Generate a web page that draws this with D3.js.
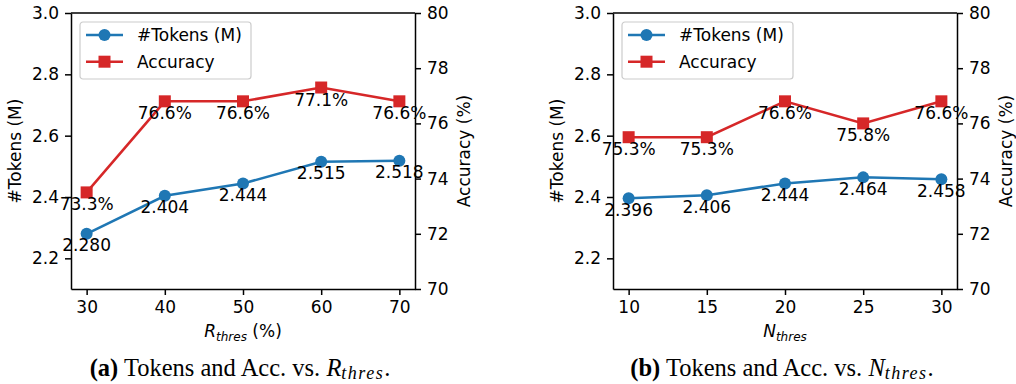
<!DOCTYPE html>
<html lang="en">
<head>
  <meta charset="UTF-8">
  <title>Tokens and Accuracy vs. thresholds</title>
  <script src="https://d3js.org/d3.v7.min.js"></script>
  <style>
    body { margin: 0; background: #fff; }
    svg { display: block; }
    .tick text { font-family: "DejaVu Sans", sans-serif; font-size: 17px; fill: #000; }
    .axis path, .axis line { stroke: #000; stroke-width: 1.5px; }
    .lbl { font-family: "DejaVu Sans", sans-serif; font-size: 17px; fill: #000; }
    .cap { font-family: "Liberation Serif", "Times New Roman", serif; font-size: 24.5px; fill: #000; }
  </style>
</head>
<body>
<div id="chart"></div>
<script>
  // panel (a): R_thres
  const rThres = [30, 40, 50, 60, 70];
  const rTokens = [2.280, 2.404, 2.444, 2.515, 2.518];
  const rAcc = [73.5, 76.8, 76.8, 77.3, 76.8];
  const rAccLabels = ["73.3%", "76.6%", "76.6%", "77.1%", "76.6%"];

  // panel (b): N_thres
  const nThres = [10, 15, 20, 25, 30];
  const nTokens = [2.396, 2.406, 2.444, 2.464, 2.458];
  const nAcc = [75.5, 75.5, 76.8, 76.0, 76.8];
  const nAccLabels = ["75.3%", "75.3%", "76.6%", "75.8%", "76.6%"];

  const tokenTicks = [2.2, 2.4, 2.6, 2.8, 3.0];
  const accTicks = [70, 72, 74, 76, 78, 80];

  const blue = "#1f77b4", red = "#d62728";

  const svg = d3.select("#chart").append("svg")
    .attr("width", 1016)
    .attr("height", 384);

  function drawPanel(o) {
    const top = 13, bottom = 289;
    const g = svg.append("g");

    const x = d3.scaleLinear().domain(o.xDomain).range([o.left, o.right]);
    const yT = d3.scaleLinear().domain([2.1, 3.0]).range([bottom, top]);
    const yA = d3.scaleLinear().domain([70, 80]).range([bottom, top]);

    // axes
    g.append("g").attr("class", "axis")
      .attr("transform", "translate(0," + bottom + ")")
      .call(d3.axisBottom(x).tickValues(o.xs).tickSize(6).tickPadding(6).tickSizeOuter(0));
    g.append("g").attr("class", "axis")
      .attr("transform", "translate(" + o.left + ",0)")
      .call(d3.axisLeft(yT).tickValues(tokenTicks).tickFormat(d3.format(".1f")).tickSize(6).tickPadding(6).tickSizeOuter(0));
    g.append("g").attr("class", "axis")
      .attr("transform", "translate(" + o.right + ",0)")
      .call(d3.axisRight(yA).tickValues(accTicks).tickSize(6).tickPadding(6).tickSizeOuter(0));
    g.append("line")
      .attr("x1", o.left).attr("x2", o.right)
      .attr("y1", top).attr("y2", top)
      .attr("stroke", "#000").attr("stroke-width", 1.5);

    // tokens line
    const lineT = d3.line().x((d, i) => x(o.xs[i])).y(d => yT(d));
    g.append("path").datum(o.tokens)
      .attr("d", lineT).attr("fill", "none")
      .attr("stroke", blue).attr("stroke-width", 2.5);
    g.selectAll(".dotT").data(o.tokens).enter().append("circle")
      .attr("cx", (d, i) => x(o.xs[i])).attr("cy", d => yT(d))
      .attr("r", 6).attr("fill", blue);
    g.selectAll(".labT").data(o.tokens).enter().append("text")
      .attr("class", "lbl")
      .attr("x", (d, i) => x(o.xs[i])).attr("y", d => yT(d) + 17.5)
      .attr("text-anchor", "middle")
      .text(d => d3.format(".3f")(d));

    // accuracy line
    const lineA = d3.line().x((d, i) => x(o.xs[i])).y(d => yA(d));
    g.append("path").datum(o.acc)
      .attr("d", lineA).attr("fill", "none")
      .attr("stroke", red).attr("stroke-width", 2.5);
    g.selectAll(".dotA").data(o.acc).enter().append("rect")
      .attr("x", (d, i) => x(o.xs[i]) - 6).attr("y", d => yA(d) - 6)
      .attr("width", 12).attr("height", 12).attr("fill", red);
    g.selectAll(".labA").data(o.acc).enter().append("text")
      .attr("class", "lbl")
      .attr("x", (d, i) => x(o.xs[i])).attr("y", d => yA(d) + 18)
      .attr("text-anchor", "middle")
      .text((d, i) => o.accLabels[i]);

    // axis labels
    g.append("text").attr("class", "lbl")
      .attr("transform", "translate(" + (o.left - 50) + "," + (top + bottom) / 2 + ") rotate(-90)")
      .attr("text-anchor", "middle").text("#Tokens (M)");
    g.append("text").attr("class", "lbl")
      .attr("transform", "translate(" + (o.right + 55) + "," + (top + bottom) / 2 + ") rotate(-90)")
      .attr("text-anchor", "middle").text("Accuracy (%)");

    const xl = g.append("text").attr("class", "lbl")
      .attr("x", (o.left + o.right) / 2).attr("y", 337)
      .attr("text-anchor", "middle");
    xl.append("tspan").attr("font-style", "italic").text(o.xName);
    xl.append("tspan").attr("font-style", "italic").attr("font-size", "12px")
      .attr("dy", 4).text("thres");
    if (o.xUnit) xl.append("tspan").attr("dy", -4).text("\u00a0" + o.xUnit);

    // legend
    const lg = g.append("g").attr("transform", "translate(" + (o.left + 9) + ",22)");
    lg.append("rect").attr("width", 171).attr("height", 57).attr("rx", 3)
      .attr("fill", "#fff").attr("fill-opacity", 0.8)
      .attr("stroke", "#ccc").attr("stroke-width", 1.2);
    const items = [{ name: "#Tokens (M)", c: blue, m: "circle" }, { name: "Accuracy", c: red, m: "square" }];
    items.forEach((it, i) => {
      const cy = 13 + i * 26.7;
      lg.append("line").attr("x1", 6).attr("x2", 43).attr("y1", cy).attr("y2", cy)
        .attr("stroke", it.c).attr("stroke-width", 2.5);
      if (it.m === "circle") {
        lg.append("circle").attr("cx", 24.5).attr("cy", cy).attr("r", 6).attr("fill", it.c);
      } else {
        lg.append("rect").attr("x", 18.5).attr("y", cy - 6).attr("width", 12).attr("height", 12).attr("fill", it.c);
      }
      lg.append("text").attr("class", "lbl").attr("x", 57).attr("y", cy + 6).text(it.name);
    });

    // caption
    const cap = g.append("text").attr("class", "cap")
      .attr("x", o.capX).attr("y", 376).attr("text-anchor", "middle");
    cap.append("tspan").attr("font-weight", "bold").text("(" + o.tag + ")");
    cap.append("tspan").text(" Tokens and Acc. vs. ");
    cap.append("tspan").attr("font-style", "italic").text(o.xName);
    cap.append("tspan").attr("font-style", "italic").attr("font-size", "18px")
      .attr("letter-spacing", "1.5px").attr("dy", 3).text("thres");
    cap.append("tspan").attr("dy", -3).text(".");
  }

  drawPanel({ left: 71, right: 415, xDomain: [28, 72], xs: rThres, tokens: rTokens, acc: rAcc,
    accLabels: rAccLabels, xName: "R", xUnit: "(%)", tag: "a", capX: 240 });
  drawPanel({ left: 613, right: 957, xDomain: [9, 31], xs: nThres, tokens: nTokens, acc: nAcc,
    accLabels: nAccLabels, xName: "N", xUnit: "", tag: "b", capX: 782 });
</script>
</body>
</html>
